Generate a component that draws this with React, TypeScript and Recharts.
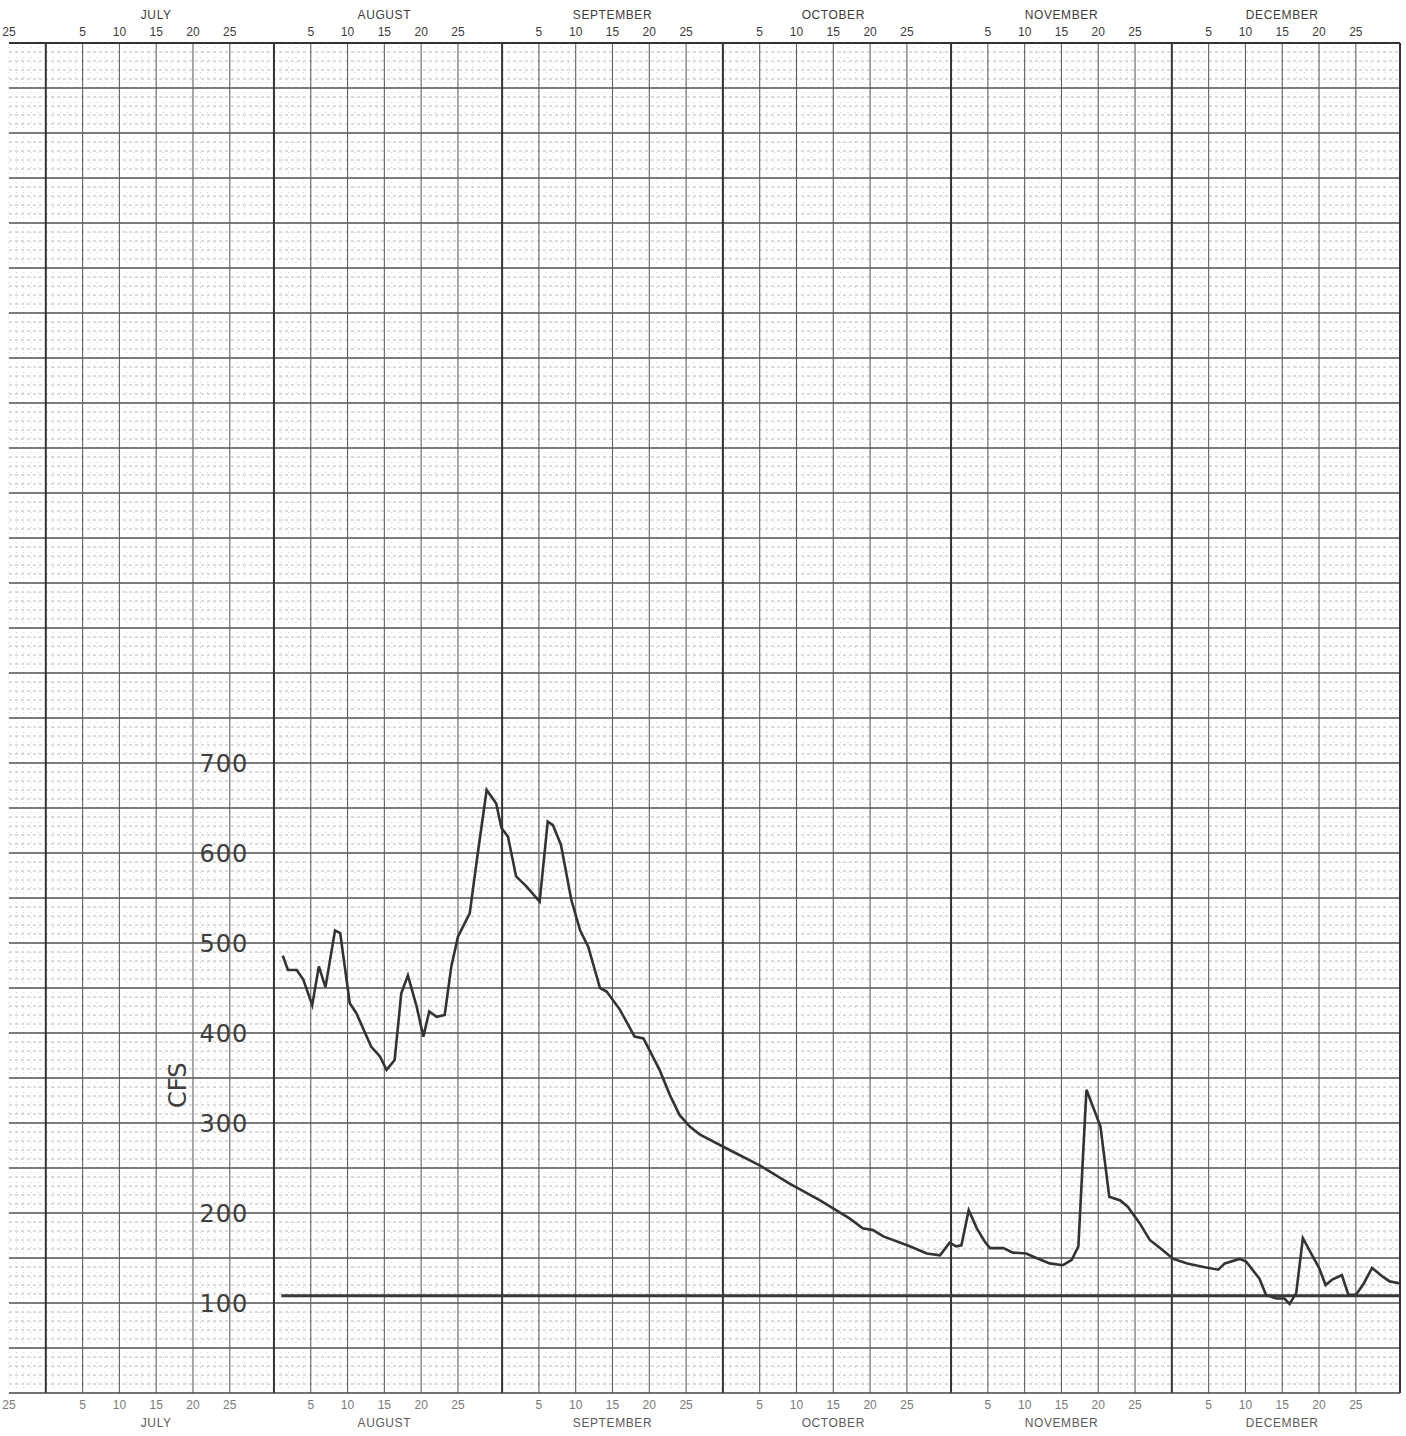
import React from 'react';
import { ComposedChart, Line, XAxis, YAxis, ReferenceLine, ReferenceDot } from 'recharts';

// Time axis: t = days counted from the end of June (July 1 = day 1)
const MONTHS = ['JULY', 'AUGUST', 'SEPTEMBER', 'OCTOBER', 'NOVEMBER', 'DECEMBER'];
const MONTH_START = [0, 31, 62, 92, 123, 153];
const MONTH_END = 184;
const DOMAIN_START = -5; // June 25
const DAY_LABELS = [5, 10, 15, 20, 25];
const CFS_LABELS = [100, 200, 300, 400, 500, 600, 700];
const CFS_MAX = 1500;
const LABEL_DAY = 24.2; // where the hand-lettered cfs values sit
const TITLE_DAY = 17.9;
const TITLE_CFS = 342;

// Hydrograph (discharge, cfs)
const DAYS = [
  32.2, 32.9, 34.1, 35.0, 36.2, 37.1, 38.0, 39.3, 40.0, 41.3, 42.2, 44.2, 45.4, 46.3, 47.4, 48.3,
  49.2, 50.4, 51.3, 52.1, 53.1, 54.2, 55.1, 56.0, 57.6, 58.7, 59.9, 61.2, 61.9, 62.8, 63.9, 65.3,
  67.1, 68.2, 68.9, 70.0, 71.4, 72.6, 73.7, 75.3, 76.2, 78.0, 80.0, 81.2, 83.4, 84.8, 86.1, 87.5,
  88.9, 92.9, 97.0, 101.0, 105.2, 109.2, 111.0, 112.4, 113.8, 117.4, 119.7, 121.5, 122.8, 123.7,
  124.4, 125.4, 126.5, 127.6, 128.3, 130.1, 131.4, 133.2, 134.6, 136.4, 138.2, 139.4, 140.3, 140.9,
  141.4, 142.8, 143.3, 144.5, 146.0, 147.0, 148.6, 150.0, 151.4, 153.2, 155.1, 157.3, 159.3, 160.2,
  162.2, 163.1, 164.9, 165.8, 167.2, 168.3, 169.0, 169.9, 170.8, 172.2, 173.0, 173.9, 174.8, 176.1,
  177.0, 178.0, 179.1, 180.2, 181.7, 182.6, 183.9,
];
const CFS = [
  486, 470, 470, 459, 431, 474, 451, 514, 511, 433, 422, 385, 374, 359, 370, 444,
  464, 429, 396, 424, 418, 420, 474, 507, 533, 600, 670, 655, 628, 618, 574, 563,
  546, 635, 631, 609, 548, 514, 496, 450, 446, 426, 396, 394, 359, 331, 309, 296,
  287, 270, 253, 233, 214, 194, 183, 181, 174, 163, 155, 153, 167, 163,
  164, 203, 183, 168, 161, 161, 156, 155, 150, 144, 142, 148, 163, 259,
  337, 307, 296, 218, 214, 207, 189, 170, 161, 149, 144, 140, 137, 144,
  149, 146, 127, 109, 105, 105, 99, 111, 172, 151, 139, 120, 126, 131,
  109, 109, 122, 139, 129, 124, 122,
];

// Horizontal base-flow line
const BASE_FLOW = 108;
const BASE_START = 32;

const data = DAYS.map((t, i) => ({ t, cfs: CFS[i] }));

// Tick definitions
const tickInfo: Record<number, { day: string; month?: string }> = {};
tickInfo[DOMAIN_START] = { day: '25' };
MONTH_START.forEach((s, mi) => {
  DAY_LABELS.forEach((d) => {
    tickInfo[s + d] = { day: String(d), month: d === 15 ? MONTHS[mi] : undefined };
  });
});
const DAY_TICKS = Object.keys(tickInfo).map(Number).sort((a, b) => a - b);

const MAJOR_V: number[] = [];
MONTH_START.forEach((s) => DAY_LABELS.forEach((d) => MAJOR_V.push(s + d)));
const MONTH_LINES = [...MONTH_START, MONTH_END];
const MINOR_V: number[] = [];
for (let t = DOMAIN_START; t < MONTH_END; t++) {
  if (!MAJOR_V.includes(t) && !MONTH_LINES.includes(t)) MINOR_V.push(t);
}
const MAJOR_H: number[] = [];
const MINOR_H: number[] = [];
for (let v = 10; v < CFS_MAX; v += 10) {
  if (v % 50 === 0) MAJOR_H.push(v);
  else MINOR_H.push(v);
}

const FONT = '"Liberation Sans", Arial, sans-serif';
const HAND = '"DejaVu Sans", sans-serif';

const TopTick = (props: any) => {
  const { x, y, payload } = props;
  const info = tickInfo[payload.value];
  if (!info) return null;
  return (
    <g>
      <text x={x} y={y - 7} textAnchor="middle" fontSize={12} fill="#3c3c3c" fontFamily={FONT}>
        {info.day}
      </text>
      {info.month && (
        <text x={x} y={y - 24} textAnchor="middle" fontSize={12} letterSpacing={0.6} fill="#3c3c3c" fontFamily={FONT}>
          {info.month}
        </text>
      )}
    </g>
  );
};

const BottomTick = (props: any) => {
  const { x, y, payload } = props;
  const info = tickInfo[payload.value];
  if (!info) return null;
  return (
    <g>
      <text x={x} y={y + 16} textAnchor="middle" fontSize={12} fill="#7a7a7a" fontFamily={FONT}>
        {info.day}
      </text>
      {info.month && (
        <text x={x} y={y + 34} textAnchor="middle" fontSize={12} letterSpacing={0.6} fill="#5a5a5a" fontFamily={FONT}>
          {info.month}
        </text>
      )}
    </g>
  );
};

export default function App() {
  return (
    <div style={{ position: 'absolute', left: 0, top: 0, background: '#fff' }}>
      <ComposedChart
        width={1406}
        height={1436}
        data={data}
        margin={{ top: 0, right: 6, bottom: 0, left: 9 }}
      >
        <XAxis
          xAxisId="top"
          orientation="top"
          type="number"
          dataKey="t"
          domain={[DOMAIN_START, MONTH_END]}
          ticks={DAY_TICKS}
          interval={0}
          height={43}
          tickSize={0}
          tickMargin={0}
          tickLine={false}
          axisLine={false}
          tick={<TopTick />}
          allowDataOverflow
        />
        <XAxis
          type="number"
          dataKey="t"
          domain={[DOMAIN_START, MONTH_END]}
          ticks={DAY_TICKS}
          interval={0}
          height={43}
          tickSize={0}
          tickMargin={0}
          tickLine={false}
          axisLine={false}
          tick={<BottomTick />}
          allowDataOverflow
        />
        <YAxis type="number" domain={[0, CFS_MAX]} hide allowDataOverflow />

        {MINOR_H.map((v) => (
          <ReferenceLine key={'mh' + v} y={v} stroke="#a6a6a6" strokeWidth={0.8} strokeDasharray="3 3" />
        ))}
        {MINOR_V.map((t) => (
          <ReferenceLine key={'mv' + t} x={t} stroke="#c2c2c2" strokeWidth={0.8} strokeDasharray="1 4" />
        ))}
        {MAJOR_H.map((v) => (
          <ReferenceLine key={'MH' + v} y={v} stroke="#505050" strokeWidth={1.3} />
        ))}
        {MAJOR_V.map((t) => (
          <ReferenceLine key={'MV' + t} x={t} stroke="#606060" strokeWidth={1.1} />
        ))}
        {MONTH_LINES.map((t) => (
          <ReferenceLine key={'ML' + t} x={t} stroke="#333" strokeWidth={2} />
        ))}
        <ReferenceLine y={0} stroke="#444" strokeWidth={1.5} />
        <ReferenceLine y={CFS_MAX} stroke="#333" strokeWidth={2} />

        <ReferenceLine
          segment={[
            { x: BASE_START, y: BASE_FLOW },
            { x: MONTH_END, y: BASE_FLOW },
          ]}
          stroke="#3a3a3a"
          strokeWidth={3}
        />

        {CFS_LABELS.map((v) => (
          <ReferenceDot
            key={'lab' + v}
            x={LABEL_DAY}
            y={v}
            r={0}
            fill="none"
            stroke="none"
            label={{ value: String(v), position: 'center', fontSize: 24, letterSpacing: 1, fill: '#3e3e3e', fontFamily: HAND }}
          />
        ))}

        <ReferenceDot
          x={TITLE_DAY}
          y={TITLE_CFS}
          r={0}
          fill="none"
          stroke="none"
          label={{ value: 'CFS', position: 'center', angle: -90, fontSize: 24, fill: '#3e3e3e', fontFamily: HAND }}
        />

        <Line
          type="linear"
          dataKey="cfs"
          stroke="#333"
          strokeWidth={2.6}
          dot={false}
          isAnimationActive={false}
        />
      </ComposedChart>
    </div>
  );
}
